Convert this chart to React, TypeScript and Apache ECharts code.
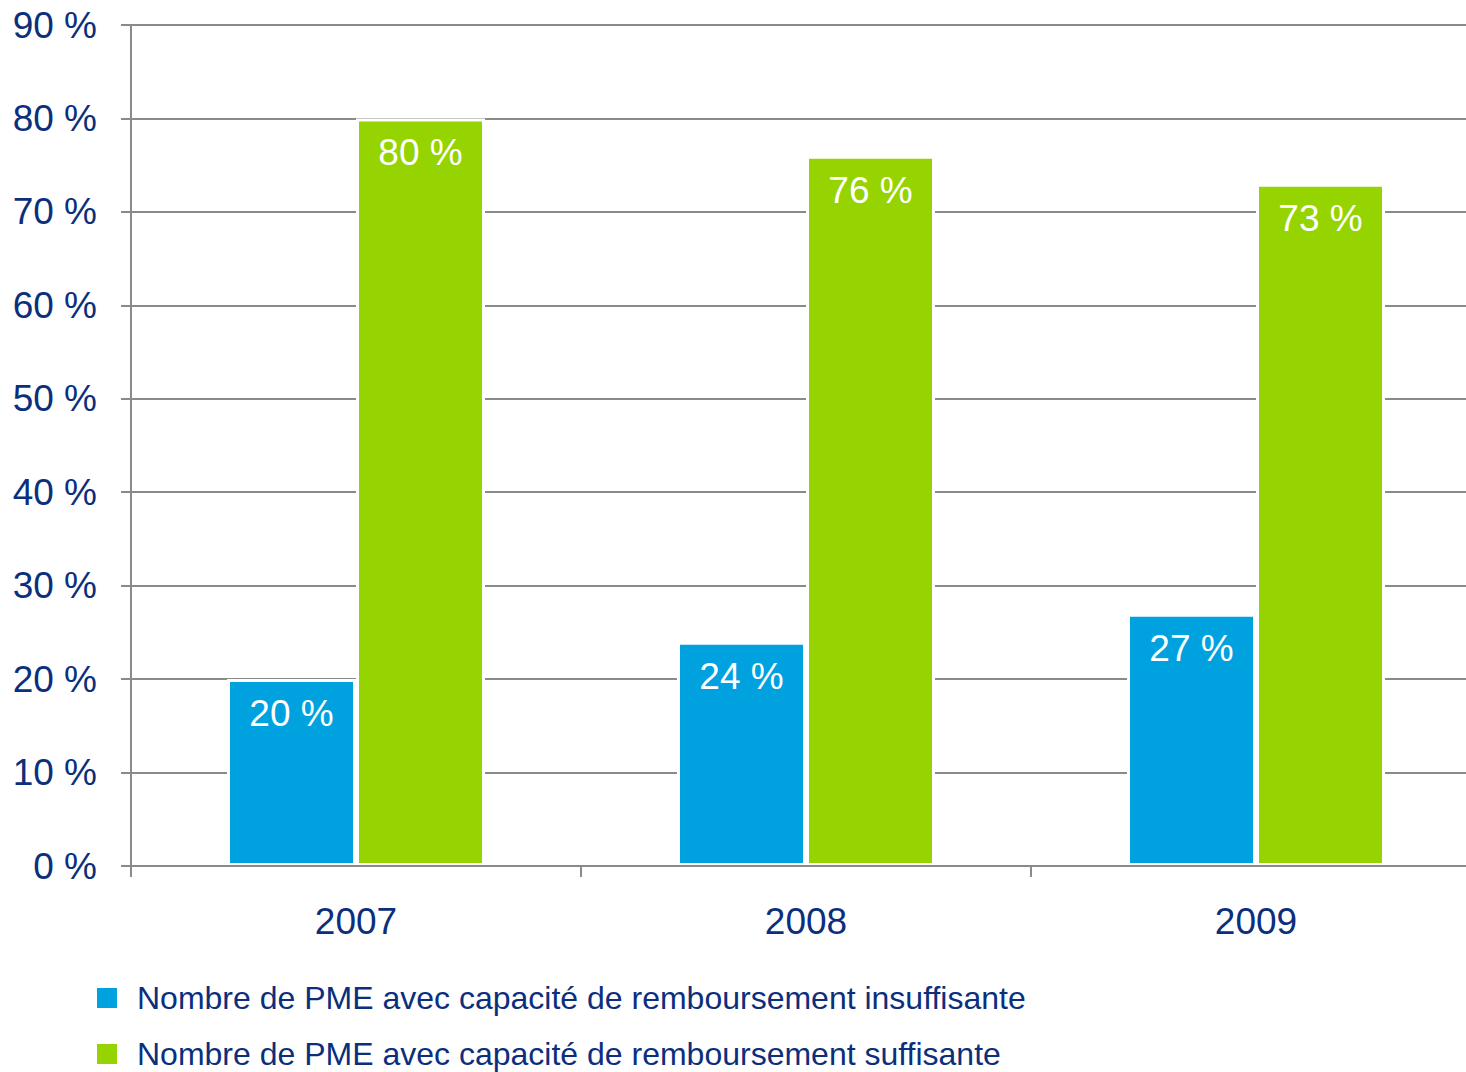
import React, { useEffect, useRef } from "react";
import * as echarts from "echarts";

const categories = ["2007", "2008", "2009"];
const insuffisante = [20, 24, 27];
const suffisante = [80, 76, 73];
const seriesNames = [
  "Nombre de PME avec capacité de remboursement insuffisante",
  "Nombre de PME avec capacité de remboursement suffisante",
];

const TEXT = "#0b2f7d";
const GRAY = "#8a8a8a";
const FONT = "'Liberation Sans', Arial, Helvetica, sans-serif";

export default function App() {
  const ref = useRef<HTMLDivElement>(null);
  useEffect(() => {
    if (!ref.current) return;
    const chart = echarts.init(ref.current, undefined, { renderer: "svg" });
    const label = {
      show: true,
      position: "insideTop",
      distance: 16,
      color: "#ffffff",
      fontSize: 37,
      fontFamily: FONT,
      formatter: (p: any) => `${p.value} %`,
    };
    const legendBase = {
      orient: "vertical",
      left: 95,
      padding: 0,
      itemWidth: 22,
      itemHeight: 22,
      icon: "rect",
      textStyle: { color: TEXT, fontSize: 32, fontFamily: FONT, padding: [0, 0, 0, 14] },
    };
    chart.setOption({
      animation: false,
      backgroundColor: "#ffffff",
      textStyle: { fontFamily: FONT },
      grid: { left: 131, right: 0, top: 25, bottom: 206 },
      legend: [
        { ...legendBase, top: 982, data: [seriesNames[0]] },
        { ...legendBase, top: 1038, data: [seriesNames[1]] },
      ],
      xAxis: {
        type: "category",
        data: categories,
        z: 10,
        axisLine: { lineStyle: { color: GRAY, width: 2 } },
        axisTick: { show: true, length: 11, lineStyle: { color: GRAY, width: 2 } },
        axisLabel: { color: TEXT, fontSize: 37, fontFamily: FONT, margin: 37 },
      },
      yAxis: {
        type: "value",
        min: 0,
        max: 90,
        interval: 10,
        axisLine: { show: true, lineStyle: { color: GRAY, width: 2 } },
        axisTick: { show: true, length: 10, lineStyle: { color: GRAY, width: 2 } },
        axisLabel: { color: TEXT, fontSize: 37, fontFamily: FONT, margin: 34, formatter: "{value} %" },
        splitLine: { show: true, lineStyle: { color: GRAY, width: 2 } },
      },
      series: [
        {
          name: seriesNames[0],
          type: "bar",
          data: insuffisante,
          barWidth: 129,
          barGap: "0%",
          itemStyle: { color: "#00a1df", borderColor: "#ffffff", borderWidth: 3 },
          label,
        },
        {
          name: seriesNames[1],
          type: "bar",
          data: suffisante,
          barWidth: 129,
          barGap: "0%",
          itemStyle: { color: "#95d400", borderColor: "#ffffff", borderWidth: 3 },
          label,
        },
      ],
    });
    return () => chart.dispose();
  }, []);
  return (
    <div
      style={{
        position: "fixed",
        left: 0,
        top: 0,
        width: 1466,
        height: 1072,
        overflow: "hidden",
        background: "#fff",
      }}
    >
      <div ref={ref} style={{ width: 1481, height: 1072 }} />
    </div>
  );
}
